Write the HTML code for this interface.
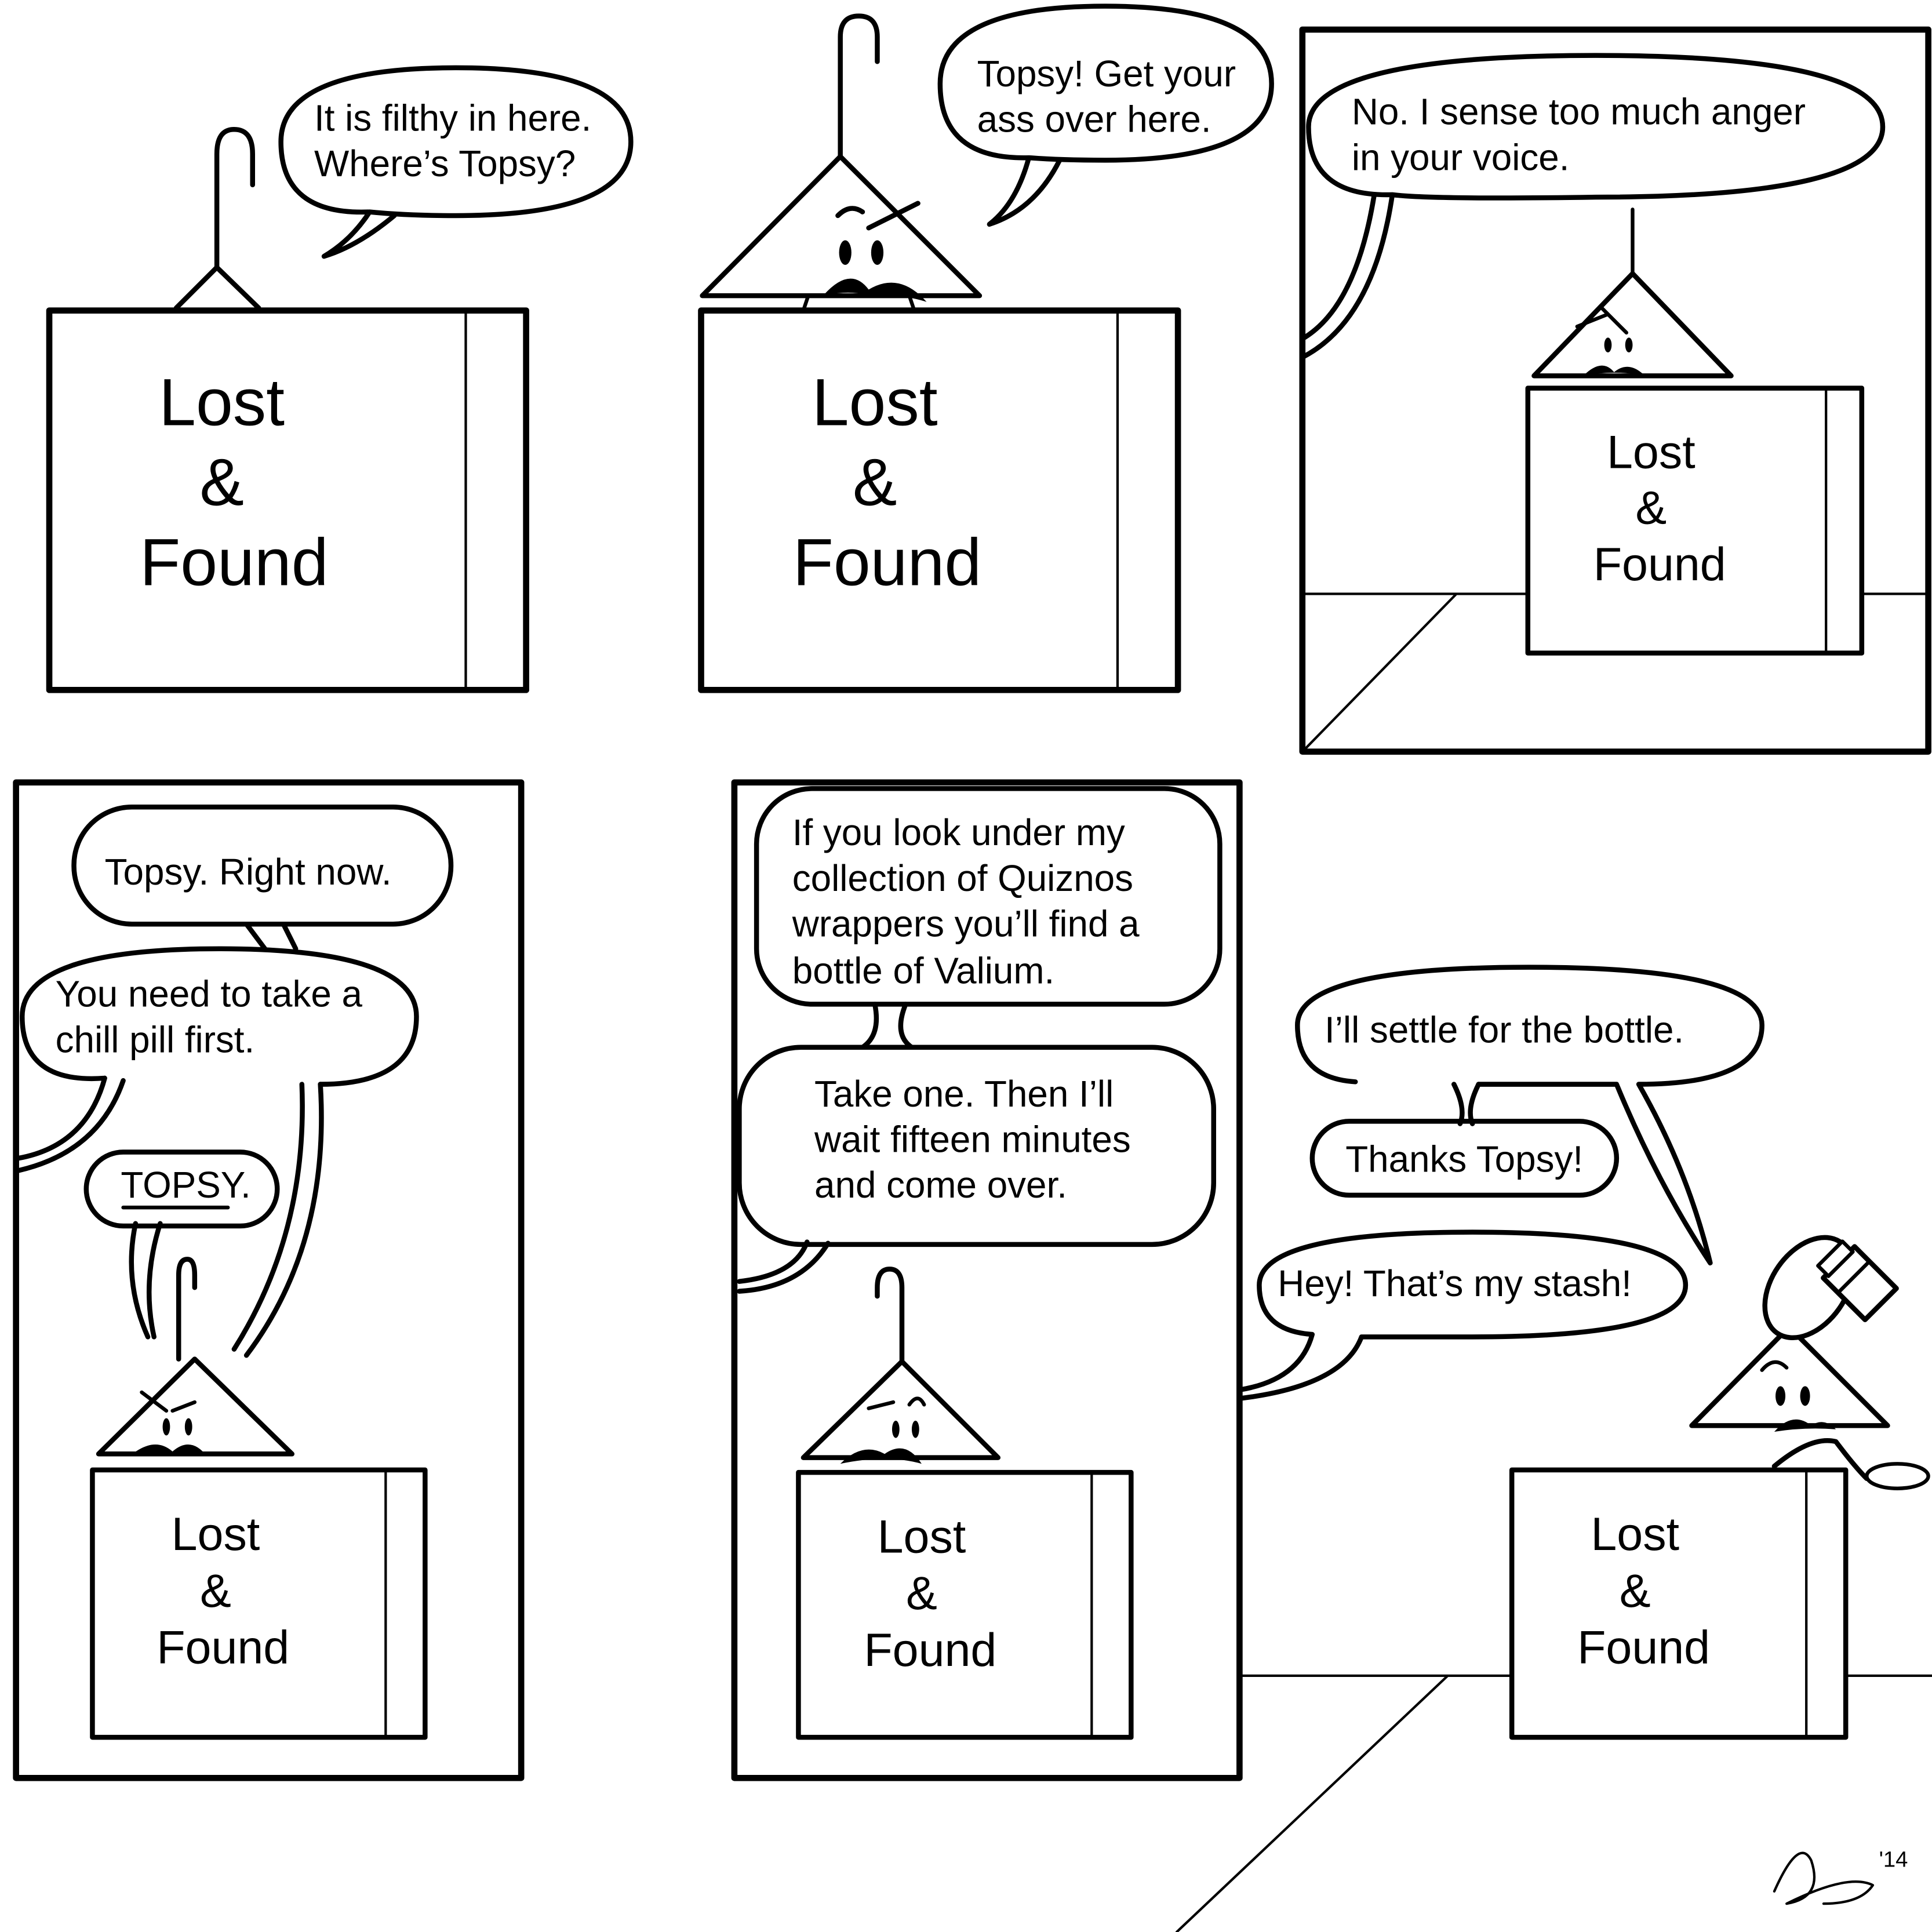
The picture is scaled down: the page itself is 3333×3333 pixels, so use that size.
<!DOCTYPE html>
<html><head><meta charset="utf-8"><style>
html,body{margin:0;padding:0;background:#fff;}
svg{display:block;}
text{font-family:"Liberation Sans",sans-serif;fill:#000;}
</style></head><body>
<svg width="3333" height="3333" viewBox="0 0 1568 1568" xmlns="http://www.w3.org/2000/svg">
<rect width="1568" height="1568" fill="#fff"/>
<g fill="none" stroke="#000" stroke-linecap="round" stroke-linejoin="round">
<!-- Panel 1 -->
<rect x="40" y="252" width="387" height="308" stroke-width="5"/>
<line x1="378" y1="254" x2="378" y2="558" stroke-width="2"/>
<path d="M143 250 L176 217 L210 250" stroke-width="4"/>
<path d="M176 217 V125 Q176 105 190 105 Q205 105 205 125 V150" stroke-width="4"/>
<path d="M300 172 Q228 175 228 115 Q228 55 370 55 Q512 55 512 115 Q512 175 370 175 Q330 175 300 172 M300 172 Q285 195 263 208 Q290 200 320 175" stroke-width="4"/>
<!-- Panel 2 -->
<rect x="569" y="252" width="387" height="308" stroke-width="5"/>
<line x1="907" y1="254" x2="907" y2="558" stroke-width="2"/>
<path d="M570 240 L682 127 L795 240 Z" stroke-width="4"/>
<path d="M682 127 V30 Q682 13 697 13 Q712 13 712 30 V50" stroke-width="4"/>
<path d="M656 240 L652 252 M738 240 L742 252" stroke-width="3"/>
<path d="M680 175 Q690 165 700 172 M705 185 L745 165" stroke-width="4"/>
<path d="M835 128 Q763 130 763 68 Q763 5 897 5 Q1032 5 1032 68 Q1032 130 897 130 Q860 130 835 128 M835 128 Q825 165 803 182 Q840 170 860 130" stroke-width="4"/>
<!-- Panel 3 -->
<rect x="1057" y="24" width="508" height="586" stroke-width="5"/>
<path d="M1130 158 Q1062 160 1062 103 Q1062 45 1295 45 Q1528 45 1528 103 Q1528 160 1295 160 Q1160 162 1130 158 M1130 158 Q1115 260 1057 290 M1115 160 Q1100 250 1057 275" stroke-width="4"/>
<line x1="1325" y1="170" x2="1325" y2="222" stroke-width="3"/>
<path d="M1245 305 L1325 222 L1405 305 Z" stroke-width="4"/>
<path d="M1280 265 L1305 255 M1300 250 L1320 270" stroke-width="3"/>
<rect x="1240" y="315" width="271" height="215" stroke-width="4"/>
<line x1="1482" y1="317" x2="1482" y2="528" stroke-width="2"/>
<path d="M1057 482 H1240 M1511 482 H1565 M1182 482 L1060 607" stroke-width="2"/>
<!-- Panel 4 -->
<rect x="13" y="635" width="410" height="808" stroke-width="5"/>
<rect x="60" y="655" width="306" height="95" rx="47" stroke-width="4"/>
<path d="M85 875 Q18 880 18 825 Q18 770 178 770 Q338 770 338 825 Q338 880 260 880 M85 875 Q70 930 15 940 M100 877 Q80 935 15 950" stroke-width="4"/>
<path d="M260 880 Q268 1010 200 1100 M245 880 Q250 1000 190 1095 M200 750 L215 770 M230 750 L240 770" stroke-width="4"/>
<rect x="70" y="935" width="155" height="60" rx="30" stroke-width="4"/>
<path d="M110 993 Q100 1040 120 1085 M130 993 Q115 1040 125 1085" stroke-width="4"/>
<line x1="100" y1="980" x2="185" y2="980" stroke-width="3"/>
<path d="M80 1180 L158 1103 L237 1180 Z" stroke-width="4"/>
<path d="M145 1103 V1035 Q145 1022 152 1022 Q158 1022 158 1035 V1045" stroke-width="4"/>
<path d="M115 1130 L135 1145 M140 1145 L158 1138" stroke-width="3"/>
<rect x="75" y="1193" width="270" height="217" stroke-width="4"/>
<line x1="313" y1="1195" x2="313" y2="1408" stroke-width="2"/>
<!-- Panel 5 -->
<rect x="596" y="635" width="410" height="808" stroke-width="5"/>
<rect x="614" y="640" width="376" height="175" rx="45" stroke-width="4"/>
<path d="M710 815 Q715 840 700 850 M735 815 Q725 840 740 850" stroke-width="4"/>
<rect x="600" y="850" width="385" height="160" rx="50" stroke-width="4"/>
<path d="M655 1008 Q645 1035 600 1040 M672 1009 Q650 1045 600 1048" stroke-width="4"/>
<path d="M652 1183 L732 1105 L810 1183 Z" stroke-width="4"/>
<path d="M732 1105 V1045 Q732 1030 722 1030 Q712 1030 712 1045 V1052" stroke-width="4"/>
<path d="M705 1143 L725 1138 M738 1140 Q745 1130 750 1140" stroke-width="3"/>
<rect x="648" y="1195" width="270" height="215" stroke-width="4"/>
<line x1="886" y1="1197" x2="886" y2="1408" stroke-width="2"/>
<!-- Panel 6 -->
<path d="M1006 1360 H1227 M1498 1360 H1568 M1175 1360 L955 1568" stroke-width="2"/>
<path d="M1100 878 Q1053 875 1053 832 Q1053 785 1241 785 Q1430 785 1430 832 Q1430 880 1330 880 Q1370 950 1388 1025 Q1345 960 1312 880 H1200" stroke-width="4"/>
<path d="M1180 880 Q1190 900 1185 912 M1200 880 Q1190 900 1195 912" stroke-width="4"/>
<rect x="1065" y="910" width="247" height="60" rx="30" stroke-width="4"/>
<path d="M1065 1083 Q1022 1080 1022 1043 Q1022 1000 1195 1000 Q1368 1000 1368 1043 Q1368 1085 1195 1085 H1105 Q1090 1125 1006 1135 M1006 1128 Q1055 1120 1065 1083" stroke-width="4"/>
<path d="M1373 1157 L1452 1077 L1532 1157 Z" stroke-width="4"/>
<path d="M1430 1112 Q1440 1100 1450 1110" stroke-width="3"/>
<ellipse cx="1468" cy="1045" rx="45" ry="30" transform="rotate(-55 1468 1045)" stroke-width="4" fill="#fff"/>
<g transform="rotate(-45 1508 1040)"><rect x="1490" y="1018" width="36" height="48" stroke-width="4" fill="#fff"/><rect x="1494" y="1008" width="28" height="12" stroke-width="3" fill="#fff"/><line x1="1490" y1="1035" x2="1526" y2="1035" stroke-width="3"/></g>
<path d="M1440 1190 Q1470 1165 1490 1170 Q1505 1190 1515 1200" stroke-width="4"/>
<ellipse cx="1540" cy="1198" rx="25" ry="10" stroke-width="3" fill="#fff"/>
<rect x="1227" y="1193" width="271" height="217" stroke-width="4" fill="#fff"/>
<line x1="1466" y1="1195" x2="1466" y2="1408" stroke-width="2"/>
<path d="M1440 1535 Q1460 1490 1470 1510 Q1480 1540 1450 1545 Q1500 1520 1520 1530 Q1510 1545 1480 1545" stroke-width="2"/>
</g>
<g fill="#000">
<ellipse cx="686" cy="205" rx="5" ry="10"/><ellipse cx="712" cy="205" rx="5" ry="10"/>
<path d="M668 240 Q690 215 705 235 Q730 220 752 245 Q730 238 705 240 Q690 235 668 240Z"/>
<ellipse cx="1305" cy="280" rx="3" ry="6"/><ellipse cx="1322" cy="280" rx="3" ry="6"/>
<path d="M1285 305 Q1300 290 1310 302 Q1322 292 1335 305 Q1310 300 1285 305Z"/>
<ellipse cx="135" cy="1158" rx="3" ry="7"/><ellipse cx="153" cy="1158" rx="3" ry="7"/>
<path d="M105 1182 Q125 1165 140 1178 Q155 1165 168 1182 Q140 1176 105 1182Z"/>
<ellipse cx="727" cy="1160" rx="3" ry="7"/><ellipse cx="743" cy="1160" rx="3" ry="7"/>
<path d="M682 1188 Q700 1170 718 1180 Q735 1168 748 1188 Q720 1180 682 1188Z"/>
<ellipse cx="1445" cy="1133" rx="4" ry="8"/><ellipse cx="1465" cy="1133" rx="4" ry="8"/>
<path d="M1440 1162 Q1455 1145 1470 1157 Q1480 1150 1490 1160 Q1465 1158 1440 1162Z"/>
</g>
<g font-size="54" text-anchor="middle">
<text x="180" y="345">Lost</text><text x="180" y="410">&amp;</text><text x="190" y="475">Found</text>
<text x="710" y="345">Lost</text><text x="710" y="410">&amp;</text><text x="720" y="475">Found</text>
</g>
<g font-size="38" text-anchor="middle">
<text x="1340" y="380">Lost</text><text x="1340" y="425">&amp;</text><text x="1347" y="471">Found</text>
<text x="175" y="1258">Lost</text><text x="175" y="1304">&amp;</text><text x="181" y="1350">Found</text>
<text x="748" y="1260">Lost</text><text x="748" y="1306">&amp;</text><text x="755" y="1352">Found</text>
<text x="1327" y="1258">Lost</text><text x="1327" y="1304">&amp;</text><text x="1334" y="1350">Found</text>
</g>
<g font-size="30">
<text x="255" y="106">It is filthy in here.</text><text x="255" y="143">Where’s Topsy?</text>
<text x="793" y="70">Topsy! Get your</text><text x="793" y="107">ass over here.</text>
<text x="1097" y="101">No. I sense too much anger</text><text x="1097" y="138">in your voice.</text>
<text x="85" y="718">Topsy. Right now.</text>
<text x="45" y="817">You need to take a</text><text x="45" y="854">chill pill first.</text>
<text x="98" y="972">TOPSY.</text>
<text x="643" y="686">If you look under my</text><text x="643" y="723">collection of Quiznos</text><text x="643" y="760">wrappers you’ll find a</text><text x="643" y="798">bottle of Valium.</text>
<text x="661" y="898">Take one. Then I’ll</text><text x="661" y="935">wait fifteen minutes</text><text x="661" y="972">and come over.</text>
<text x="1075" y="846">I’ll settle for the bottle.</text>
<text x="1092" y="951">Thanks Topsy!</text>
<text x="1037" y="1052">Hey! That’s my stash!</text>
</g>
<text x="1525" y="1515" font-size="18">'14</text>
</svg>
</body></html>
